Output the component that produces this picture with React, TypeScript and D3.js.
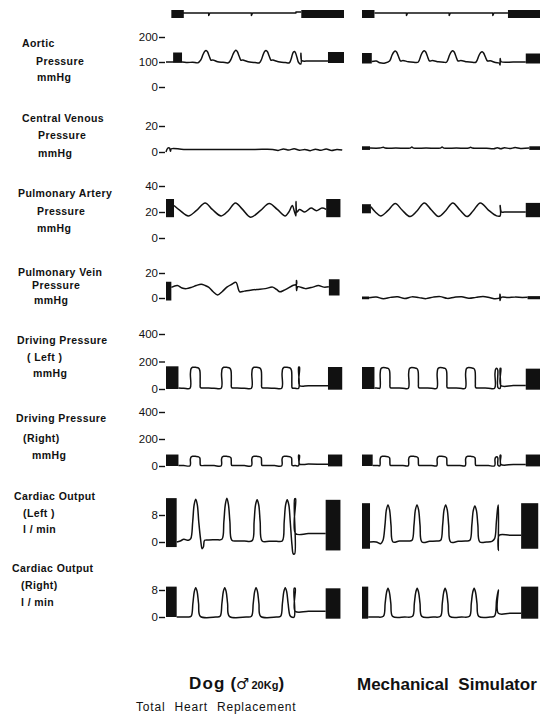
import * as d3 from "d3";
import { useEffect, useRef } from "react";

type Pt = [number, number];
type Block = [number, number, number, number]; // t0, t1, low, high

// time runs 0..100 across each panel (dog / simulator)

// time marker
const markerDog: Pt[] = [[8, 6], [24, 6], [24, 3.5], [24.6, 6], [48, 6], [48, 3.5], [48.6, 6], [73, 6], [73, 7], [76, 7]];
const markerDogBlocks: Block[] = [[3, 10, 1, 9], [76, 100, 1, 9]];
const markerSim: Pt[] = [[7, 6], [25, 6], [25, 3.5], [25.6, 6], [49, 6], [49, 3.5], [49.6, 6], [73.5, 6], [73.5, 3.5], [74.1, 6], [82, 6]];
const markerSimBlocks: Block[] = [[0, 7, 1, 9], [82, 100, 1, 9]];

// aortic pressure mmHg
const aorticTicks = [0, 100, 200];
const aorticDog: Pt[] = [[0, 100], [4, 100], [9, 100], [12, 98], [15, 99], [18, 97], [19.5, 108], [20.8, 130], [21.7, 142], [22.5, 146], [23.3, 141], [24.2, 125], [25.3, 107], [26.3, 108], [27.3, 106], [29, 101], [32, 99], [35, 97], [36.3, 108], [37.6, 130], [38.5, 142], [39.3, 147], [40.1, 141], [41, 125], [42.1, 107], [43.1, 108], [44.1, 106], [47, 100], [50, 98], [52.5, 97], [53.5, 108], [54.6, 130], [55.4, 142], [56.2, 146], [57, 141], [57.9, 125], [59, 107], [60, 108], [61, 106], [64, 100], [67, 98], [69.3, 97], [70.2, 110], [71, 130], [71.6, 140], [72.2, 142], [72.8, 136], [73.6, 118], [74.5, 98], [75.8, 92], [75.8, 135], [76.2, 106], [80, 104], [85, 104], [91, 104]];
const aorticDogBlocks: Block[] = [[4, 9, 98, 138], [91, 100, 96, 140]];
const aorticSim: Pt[] = [[5.5, 102], [8, 104], [10, 97], [13, 96], [15.5, 104], [16.9, 128], [17.9, 140], [18.7, 144], [19.5, 139], [20.4, 124], [21.7, 104], [23, 106], [26, 101], [29, 99], [31.5, 99], [33.2, 128], [34.2, 141], [35, 145], [35.8, 140], [36.7, 124], [38, 104], [39.5, 106], [43, 101], [46, 99], [47.5, 99], [49.2, 128], [50.2, 141], [51, 145], [51.8, 140], [52.7, 124], [54, 104], [55.5, 106], [59, 101], [62, 99], [64, 99], [65.7, 126], [66.7, 138], [67.5, 141], [68.3, 136], [69.2, 122], [70.5, 104], [72, 105], [75, 98], [77, 96], [77.6, 88], [77.6, 114], [78.2, 101], [85, 100], [92, 100]];
const aorticSimBlocks: Block[] = [[0, 5.5, 94, 136], [92, 100, 94, 134]];

// central venous pressure mmHg
const cvpTicks = [0, 20];
const cvpDog: Pt[] = [[0, 0], [1, 3], [2, 3], [2.5, 0.5], [3, 2.5], [10, 2], [30, 2], [50, 2], [60, 2], [63, 1.2], [66, 2.4], [69, 1.5], [72, 2.5], [75, 1.3], [78, 2], [81, 1], [84, 2.2], [87, 1.3], [90, 2.3], [93, 1.2], [96, 2], [99, 1.5]];
const cvpDogBlocks: Block[] = [];
const cvpSim: Pt[] = [[4.5, 3], [10, 3], [12, 3.6], [13, 3], [19, 3], [27, 3], [28, 3.8], [29, 3], [36, 3], [44, 3], [45, 3.8], [46, 3], [53, 3], [60, 3], [61, 3.6], [62, 3], [70, 2.8], [74, 2.5], [76, 3.3], [78, 2.5], [80, 3.3], [83, 2.6], [86, 3.4], [89, 2.7], [94, 3]];
const cvpSimBlocks: Block[] = [[0, 4.5, 1.6, 4.4], [94, 100, 1.6, 4.4]];

// pulmonary artery pressure mmHg
const paTicks = [0, 20, 40];
const paDog: Pt[] = [[4.5, 25], [8, 21], [12.5, 17], [17, 21], [22, 27], [26, 22], [31, 17], [35, 21], [39, 27], [43, 22], [47.5, 16], [53, 21], [58, 26.5], [62.5, 22], [67, 17], [69, 20], [71, 25], [72, 21], [73, 17], [73, 28], [73.6, 20], [75, 22], [78, 20], [81.5, 23], [84.5, 21], [87.6, 23], [90, 22]];
const paDogBlocks: Block[] = [[0, 4.5, 16, 30], [90, 98, 16, 30]];
const paSim: Pt[] = [[5, 24], [7.5, 20], [10.5, 17], [14.5, 21], [18.7, 26.5], [22.5, 21.5], [27, 16.5], [31, 21], [35, 27], [39, 21.5], [43, 16.5], [47, 21], [51, 27], [55, 21.5], [59, 16.5], [62.5, 21], [66.5, 27], [71, 21.5], [75.6, 17], [77.6, 17], [77.6, 25], [78.3, 20], [80, 20], [92, 20]];
const paSimBlocks: Block[] = [[0, 5, 19, 26], [92, 100, 16, 27]];

// pulmonary vein pressure mmHg
const pvTicks = [0, 20];
const pvDog: Pt[] = [[3, 8.5], [6.4, 10], [9, 8], [11.5, 7.5], [14.6, 8.7], [17, 10], [19.8, 11], [22, 10], [23.9, 8.7], [26.5, 5], [29, 2.5], [31.5, 5], [34.2, 8.7], [37, 11], [39.3, 12.5], [41.4, 5], [44, 5.5], [47.5, 6.2], [51, 6.8], [55.8, 7.5], [59.9, 8.7], [62, 7], [64, 5], [66, 6], [68.1, 7.5], [71.2, 10], [73.3, 11], [73.3, 14], [73.3, 6], [74, 9], [78.4, 7.5], [82.5, 8.7], [85.6, 10], [88.7, 8.7], [91.5, 9]];
const pvDogBlocks: Block[] = [[0, 3, -2, 13], [91.5, 97.5, 2, 15]];
const pvSim: Pt[] = [[4, 0.2], [8, 0.8], [12, -0.6], [16, 0.5], [20, 1], [24, -0.4], [28, 0.9], [32, 0.3], [36, -0.5], [40, 0.7], [44, 1.1], [48, -0.3], [52, 0.6], [56, 1], [60, -0.2], [64, 0.5], [68, 1.2], [72, 0.2], [75, -0.6], [77.5, 0.3], [77.5, 3], [77.5, -2], [78.2, 0.5], [82, 0.4], [86, 0.7], [90, 0.5], [93, 0.6]];
const pvSimBlocks: Block[] = [[0, 4, -1, 1.2], [93, 100, -1, 1.5]];

// driving pressure (left) mmHg
const dplTicks = [0, 200, 400];
const dplDog: Pt[] = [[7, 8], [10, 6], [13.5, 5], [13.7, 110], [14.1, 148], [14.9, 158], [16.9, 157], [18.3, 152], [19, 135], [19.2, 40], [19.4, 10], [23, 8], [27, 6], [31, 5], [31.2, 110], [31.6, 148], [32.4, 158], [34.4, 157], [35.8, 152], [36.5, 135], [36.7, 40], [36.9, 10], [40, 8], [44, 6], [48, 5], [48.2, 110], [48.6, 148], [49.4, 158], [51.4, 157], [52.8, 152], [53.5, 135], [53.7, 40], [53.9, 10], [57, 8], [61, 6], [65, 5], [65.2, 110], [65.6, 148], [66.4, 158], [68.4, 157], [69.8, 152], [70.5, 135], [70.7, 40], [70.9, 8], [72.5, 6], [74.5, 5], [74.5, 160], [75, 158], [75, 25], [80, 24], [91, 23]];
const dplDogBlocks: Block[] = [[0, 7, 0, 165], [91, 99, -5, 160]];
const dplSim: Pt[] = [[7, 8], [9, 6], [10, 5], [10.2, 110], [10.6, 146], [11.4, 155], [13.4, 154], [14.8, 149], [15.5, 132], [15.7, 40], [15.9, 10], [19, 8], [23, 6], [26, 5], [26.2, 110], [26.6, 146], [27.4, 155], [29.4, 154], [30.8, 149], [31.5, 132], [31.7, 40], [31.9, 10], [35, 8], [39, 6], [42, 5], [42.2, 110], [42.6, 146], [43.4, 155], [45.4, 154], [46.8, 149], [47.5, 132], [47.7, 40], [47.9, 10], [51, 8], [55, 6], [58, 5], [58.2, 110], [58.6, 146], [59.4, 155], [61.4, 154], [62.8, 149], [63.5, 132], [63.7, 40], [63.9, 10], [67, 8], [71, 6], [74.5, 5], [74.7, 110], [75.1, 145], [75.8, 150], [76.3, 135], [76.4, 10], [77.6, 5], [77.6, 150], [78, 150], [78, 25], [85, 25], [92, 25]];
const dplSimBlocks: Block[] = [[0, 7, 0, 160], [92, 100, -5, 148]];

// driving pressure (right) mmHg
const dprTicks = [0, 200, 400];
const dprDog: Pt[] = [[7, 4], [10, 3], [13.5, 2], [13.7, 50], [14.1, 66], [14.9, 72], [16.9, 71], [18.3, 68], [19, 60], [19.2, 15], [19.4, 5], [23, 4], [27, 3], [31, 2], [31.2, 50], [31.6, 66], [32.4, 72], [34.4, 71], [35.8, 68], [36.5, 60], [36.7, 15], [36.9, 5], [40, 4], [44, 3], [48, 2], [48.2, 50], [48.6, 66], [49.4, 72], [51.4, 71], [52.8, 68], [53.5, 60], [53.7, 15], [53.9, 5], [57, 4], [61, 3], [65, 2], [65.2, 50], [65.6, 66], [66.4, 72], [68.4, 71], [69.8, 68], [70.5, 60], [70.7, 15], [70.9, 4], [72.5, 3], [74.5, 2], [74.5, 80], [75, 78], [75, 15], [80, 14], [91, 13]];
const dprDogBlocks: Block[] = [[0, 7, 0, 85], [91, 99, -3, 85]];
const dprSim: Pt[] = [[6, 4], [9, 3], [10, 2], [10.2, 50], [10.6, 66], [11.4, 72], [13.4, 71], [14.8, 68], [15.5, 60], [15.7, 15], [15.9, 5], [19, 4], [23, 3], [26, 2], [26.2, 50], [26.6, 66], [27.4, 72], [29.4, 71], [30.8, 68], [31.5, 60], [31.7, 15], [31.9, 5], [35, 4], [39, 3], [42, 2], [42.2, 50], [42.6, 66], [43.4, 72], [45.4, 71], [46.8, 68], [47.5, 60], [47.7, 15], [47.9, 5], [51, 4], [55, 3], [58, 2], [58.2, 50], [58.6, 66], [59.4, 72], [61.4, 71], [62.8, 68], [63.5, 60], [63.7, 15], [63.9, 5], [67, 4], [71, 3], [74.5, 2], [74.7, 50], [75.1, 64], [75.8, 68], [76.3, 60], [76.4, 5], [77.6, 2], [77.6, 80], [78, 80], [78, 12], [85, 12], [92, 12]];
const dprSimBlocks: Block[] = [[0, 6, 0, 85], [92, 100, -3, 85]];

// cardiac output (left) l/min
const colTicks = [0, 8];
const colDog: Pt[] = [[6, 0], [8, 0.3], [10, 0.8], [12.6, 0.5], [13.9, 1], [15, 6], [15.8, 11], [16.7, 12.7], [17.6, 11], [18.4, 6], [19.5, 0.5], [20.3, -2], [21, -1.5], [21.7, 0.5], [24, 0.6], [28, 0.7], [31.4, 0.8], [32.5, 6], [33.3, 11], [34.2, 13], [35.1, 11], [35.9, 6], [37, 0.5], [40, 0.3], [44, 0.3], [48.4, 0.4], [49.5, 6], [50.3, 11], [51.2, 12.5], [52.1, 11], [52.9, 6], [54, 0.3], [58, 0.2], [62, 0.2], [65.3, 0.3], [66.4, 6], [67.2, 11], [68.1, 12.5], [69, 11], [69.8, 6], [70.8, -1], [71.5, -3.5], [72.3, -3.5], [72.3, 12.8], [72.8, 12.8], [72.8, 2.5], [80, 2.5], [89.7, 2.5]];
const colDogBlocks: Block[] = [[0, 6, -1.5, 13], [89.7, 98, -2.5, 12.5]];
const colSim: Pt[] = [[4.5, 0], [8, 0], [10.5, -0.5], [11.8, 0.5], [12.9, 5], [13.7, 9.5], [14.6, 11], [15.5, 9.5], [16.3, 5], [17.4, 0], [21, 0.3], [26, 0.3], [28.1, 0.5], [29.2, 5], [30, 9.5], [30.9, 11], [31.8, 9.5], [32.6, 5], [33.7, 0], [38, 0.2], [42, 0.3], [44.2, 0.5], [45.3, 5], [46.1, 9.5], [47, 11], [47.9, 9.5], [48.7, 5], [49.8, 0], [54, 0.2], [58, 0.3], [60.6, 0.5], [61.7, 5], [62.5, 9.3], [63.4, 10.7], [64.3, 9.3], [65.1, 5], [66.2, 0], [70, 0], [73, 0.2], [74.5, 1], [75.5, 6], [76.2, 10], [76.6, 11], [76.6, -2.5], [77.1, 2], [83, 2], [89.4, 2]];
const colSimBlocks: Block[] = [[0, 4.5, -2, 11.5], [89.4, 99, -2, 11.5]];

// cardiac output (right) l/min
const corTicks = [0, 8];
const corDog: Pt[] = [[6, 0], [12, 0], [14.1, 0.2], [15.1, 4], [15.9, 7.5], [16.7, 8.7], [17.5, 7.5], [18.3, 4], [19.3, 0.2], [28, 0], [30.4, 0.2], [31.4, 4], [32.2, 7.5], [33, 8.7], [33.8, 7.5], [34.6, 4], [35.6, 0.2], [45, 0], [48, 0.2], [49, 4], [49.8, 7.5], [50.6, 8.7], [51.4, 7.5], [52.2, 4], [53.2, 0.2], [62, 0], [64.4, 0.2], [65.4, 4], [66.2, 7.5], [67, 8.7], [67.8, 7.5], [68.6, 4], [69.6, 0.5], [70.5, 0], [72, 0], [72, 8.5], [72.6, 8.5], [72.6, 1.7], [80, 1.7], [89.7, 1.7]];
const corDogBlocks: Block[] = [[0, 6, 0, 9], [89.7, 98, -0.5, 8.5]];
const corSim: Pt[] = [[3.5, 0], [8, 0], [12, 0.2], [13, 4], [13.8, 7.3], [14.6, 8.5], [15.4, 7.3], [16.2, 4], [17.2, 0.2], [24, 0], [28.4, 0.2], [29.4, 4], [30.2, 7.3], [31, 8.5], [31.8, 7.3], [32.6, 4], [33.6, 0.2], [40, 0], [44.1, 0.2], [45.1, 4], [45.9, 7.3], [46.7, 8.5], [47.5, 7.3], [48.3, 4], [49.3, 0.2], [56, 0], [60.4, 0.2], [61.4, 4], [62.2, 7.3], [63, 8.5], [63.8, 7.3], [64.6, 4], [65.6, 0.2], [72, 0], [74.5, 0.3], [75.6, 5], [76.6, 8], [76.6, 1.1], [83, 1.1], [89.4, 1.1]];
const corSimBlocks: Block[] = [[0, 3.5, -0.5, 9], [89.4, 99, -0.5, 9]];

const labelAortic = ["Aortic", "Pressure", "mmHg"];
const labelCvp = ["Central Venous", "Pressure", "mmHg"];
const labelPa = ["Pulmonary Artery", "Pressure", "mmHg"];
const labelPv = ["Pulmonary Vein", "Pressure", "mmHg"];
const labelDpl = ["Driving Pressure", "( Left )", "mmHg"];
const labelDpr = ["Driving Pressure", "(Right)", "mmHg"];
const labelCol = ["Cardiac Output", "(Left )", "l / min"];
const labelCor = ["Cardiac Output", "(Right)", "l / min"];

const FONT = "'Liberation Sans', Arial, sans-serif";

const rows = [
  { dog: markerDog, dogB: markerDogBlocks, sim: markerSim, simB: markerSimBlocks, domain: [0, 10], range: [19, 9], straight: true },
  { label: labelAortic, lx: [22, 36, 37], ly: [47, 65, 81], ticks: aorticTicks, dog: aorticDog, dogB: aorticDogBlocks, sim: aorticSim, simB: aorticSimBlocks, domain: [0, 200], range: [87, 37] },
  { label: labelCvp, lx: [22, 38, 38], ly: [122, 139, 157], ticks: cvpTicks, dog: cvpDog, dogB: cvpDogBlocks, sim: cvpSim, simB: cvpSimBlocks, domain: [0, 20], range: [152, 126] },
  { label: labelPa, lx: [18, 37, 37], ly: [197, 215, 232], ticks: paTicks, dog: paDog, dogB: paDogBlocks, sim: paSim, simB: paSimBlocks, domain: [0, 40], range: [238, 186] },
  { label: labelPv, lx: [18, 32, 34], ly: [276, 289, 304], ticks: pvTicks, dog: pvDog, dogB: pvDogBlocks, sim: pvSim, simB: pvSimBlocks, domain: [0, 20], range: [298, 273] },
  { label: labelDpl, lx: [17, 27, 33], ly: [344, 361, 377], ticks: dplTicks, dog: dplDog, dogB: dplDogBlocks, sim: dplSim, simB: dplSimBlocks, domain: [0, 400], range: [389, 334] },
  { label: labelDpr, lx: [16, 23, 32], ly: [422, 442, 459], ticks: dprTicks, dog: dprDog, dogB: dprDogBlocks, sim: dprSim, simB: dprSimBlocks, domain: [0, 400], range: [466, 412] },
  { label: labelCol, lx: [14, 23, 23], ly: [500, 517, 533], ticks: colTicks, dog: colDog, dogB: colDogBlocks, sim: colSim, simB: colSimBlocks, domain: [0, 8], range: [542, 515] },
  { label: labelCor, lx: [12, 21, 21], ly: [572, 589, 606], ticks: corTicks, dog: corDog, dogB: corDogBlocks, sim: corSim, simB: corSimBlocks, domain: [0, 8], range: [617, 590] },
];

const drawChart = (el: SVGSVGElement) => {
  const svg = d3.select(el);
  svg.selectAll("*").remove();

  svg.append("rect").attr("width", 553).attr("height", 714).attr("fill", "#fff");

  const xDog = d3.scaleLinear().domain([0, 100]).range([166, 344]);
  const xSim = d3.scaleLinear().domain([0, 100]).range([362, 540]);

  rows.forEach((row) => {
    const y = d3.scaleLinear().domain(row.domain).range(row.range);

    if (row.label) {
      const lab = svg.append("g")
        .attr("font-family", FONT)
        .attr("font-weight", "bold")
        .attr("font-size", 10.5)
        .attr("letter-spacing", 0.4)
        .attr("fill", "#111");
      row.label.forEach((s, i) => {
        lab.append("text").attr("x", row.lx![i]).attr("y", row.ly![i]).text(s);
      });
    }

    if (row.ticks) {
      const ax = svg.append("g")
        .attr("transform", "translate(165,0)")
        .call(d3.axisLeft(y).tickValues(row.ticks).tickSize(6).tickPadding(1).tickFormat(d3.format("d")));
      ax.select(".domain").remove();
      ax.selectAll("line").attr("stroke", "#111").attr("stroke-width", 1.4);
      ax.selectAll("text")
        .attr("font-family", FONT)
        .attr("font-size", 11.5)
        .attr("fill", "#111");
    }

    const panels: [d3.ScaleLinear<number, number>, Pt[], Block[]][] = [
      [xDog, row.dog, row.dogB],
      [xSim, row.sim, row.simB],
    ];
    panels.forEach(([x, pts, blocks]) => {
      const line = d3.line<Pt>()
        .x((d) => x(d[0]))
        .y((d) => y(d[1]))
        .curve(row.straight ? d3.curveLinear : d3.curveCatmullRom.alpha(0.5));
      svg.append("path")
        .attr("d", line(pts))
        .attr("fill", "none")
        .attr("stroke", "#111")
        .attr("stroke-width", 1.5)
        .attr("stroke-linejoin", "round");
      svg.selectAll(null)
        .data(blocks)
        .enter()
        .append("rect")
        .attr("x", (b) => x(b[0]))
        .attr("y", (b) => y(b[3]))
        .attr("width", (b) => x(b[1]) - x(b[0]))
        .attr("height", (b) => y(b[2]) - y(b[3]))
        .attr("fill", "#111");
    });
  });

  const dog = svg.append("text")
    .attr("x", 189)
    .attr("y", 689)
    .attr("font-family", FONT)
    .attr("font-weight", "bold")
    .attr("fill", "#111");
  dog.append("tspan").attr("font-size", 17).attr("letter-spacing", 1.2).text("Dog");
  dog.append("tspan").attr("font-size", 17).text(" (");
  dog.append("tspan").attr("font-size", 15).attr("font-family", "'DejaVu Sans', sans-serif").text("\u2642");
  dog.append("tspan").attr("font-size", 11).attr("dx", 2).text("20Kg");
  dog.append("tspan").attr("font-size", 17).text(")");

  svg.append("text")
    .attr("x", 357)
    .attr("y", 690)
    .attr("font-family", FONT)
    .attr("font-weight", "bold")
    .attr("font-size", 17)
    .attr("word-spacing", 5)
    .attr("fill", "#111")
    .text("Mechanical Simulator");

  svg.append("text")
    .attr("x", 136)
    .attr("y", 711)
    .attr("font-family", FONT)
    .attr("font-size", 12)
    .attr("letter-spacing", 0.8)
    .attr("word-spacing", 5)
    .attr("fill", "#111")
    .text("Total Heart Replacement");
};

const App = () => {
  const ref = useRef<SVGSVGElement>(null);

  useEffect(() => {
    if (ref.current) drawChart(ref.current);
  }, []);

  return (
    <svg
      ref={ref}
      width={553}
      height={714}
      style={{ position: "absolute", left: 0, top: 0 }}
    />
  );
};

export default App;
